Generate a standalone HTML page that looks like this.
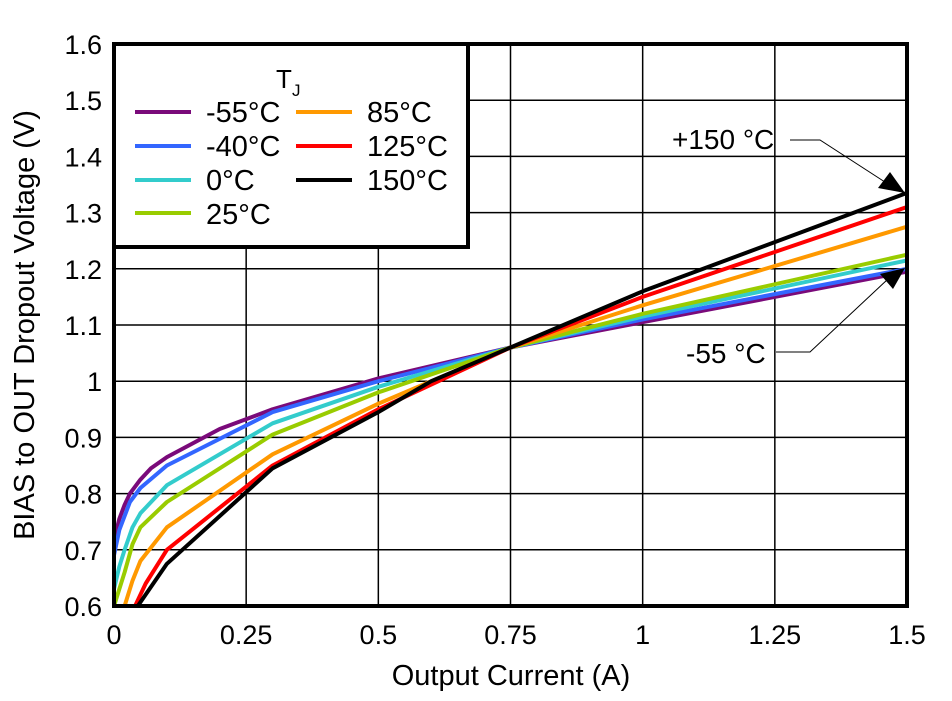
<!DOCTYPE html><html><head><style>body{margin:0;background:#fff}svg{display:block;font-family:"Liberation Sans",Arial,sans-serif}</style></head><body>
<svg id="s" width="952" height="701" viewBox="0 0 952 701" xmlns="http://www.w3.org/2000/svg">
<rect width="952" height="701" fill="#fff"/>
<g id="grid" stroke="#000" stroke-width="1.5"></g>
<g id="curves" fill="none" stroke-width="4" stroke-linejoin="round"></g>
<rect x="114" y="44" width="793" height="562" fill="none" stroke="#000" stroke-width="4"/>
<rect x="114" y="44" width="354" height="203" fill="#fff" stroke="#000" stroke-width="4"/>
<g font-size="29" fill="#000">
<text x="276" y="88" font-size="26">T</text><text x="292" y="96" font-size="17">J</text>
<line x1="135" y1="112" x2="191" y2="112" stroke="#7a0a7a" stroke-width="4"/><text x="206" y="122">-55°C</text>
<line x1="135" y1="146" x2="191" y2="146" stroke="#3366ff" stroke-width="4"/><text x="206" y="156">-40°C</text>
<line x1="135" y1="180" x2="191" y2="180" stroke="#33cccc" stroke-width="4"/><text x="206" y="190">0°C</text>
<line x1="135" y1="213" x2="191" y2="213" stroke="#99cc00" stroke-width="4"/><text x="206" y="224">25°C</text>
<line x1="296" y1="112" x2="352" y2="112" stroke="#ff9900" stroke-width="4"/><text x="367" y="122">85°C</text>
<line x1="296" y1="146" x2="352" y2="146" stroke="#ff0000" stroke-width="4"/><text x="367" y="156">125°C</text>
<line x1="296" y1="180" x2="352" y2="180" stroke="#000" stroke-width="4"/><text x="367" y="190">150°C</text>
<text x="672" y="149" font-size="28">+150 °C</text>
<text x="686" y="363" font-size="28">-55 °C</text>
<text x="511" y="685" text-anchor="middle">Output Current (A)</text>
<text transform="translate(34,325) rotate(-90)" text-anchor="middle">BIAS to OUT Dropout Voltage (V)</text>
</g>
<g id="ticks" font-size="27" fill="#000"></g>
<polyline points="790,140 820,140 888,184" fill="none" stroke="#000" stroke-width="1"/>
<polygon points="905,193 878,188 890,172" fill="#000"/>
<polyline points="776,352 810,352 888,279" fill="none" stroke="#000" stroke-width="1"/>
<polygon points="905,268 893,289 880,274" fill="#000"/>
</svg>
<script>
var X=v=>114+v*528.67,Y=v=>606-(v-0.6)*562,ns="http://www.w3.org/2000/svg";
function el(p,t,a,txt){var e=document.createElementNS(ns,t);for(var k in a)e.setAttribute(k,a[k]);if(txt)e.textContent=txt;document.getElementById(p).appendChild(e);}
var xl=["0","0.25","0.5","0.75","1","1.25","1.5"];
for(var i=0;i<7;i++){var x=X(i*0.25);el("grid","line",{x1:x,y1:44,x2:x,y2:606});el("ticks","text",{x:x,y:644,"text-anchor":"middle"},xl[i]);}
for(var i=0;i<11;i++){var v=0.6+i*0.1,y=Y(v);el("grid","line",{x1:114,y1:y,x2:907,y2:y});el("ticks","text",{x:102,y:y+10,"text-anchor":"end"},i==4?"1":v.toFixed(1));}
var C=[["#7a0a7a",[[0,0.71],[0.005,0.735],[0.01,0.755],[0.02,0.78],[0.03,0.80],[0.05,0.825],[0.07,0.845],[0.1,0.865],[0.2,0.915],[0.3,0.95],[0.5,1.005],[0.75,1.06],[1,1.105],[1.5,1.195]]],
["#3366ff",[[0,0.69],[0.01,0.735],[0.02,0.76],[0.03,0.785],[0.05,0.81],[0.1,0.85],[0.3,0.945],[0.5,1.0],[0.75,1.06],[1,1.11],[1.5,1.20]]],
["#33cccc",[[0,0.63],[0.01,0.67],[0.02,0.70],[0.035,0.74],[0.05,0.765],[0.1,0.815],[0.3,0.925],[0.5,0.99],[0.75,1.06],[1,1.115],[1.5,1.215]]],
["#99cc00",[[0,0.6],[0.01,0.63],[0.02,0.66],[0.035,0.71],[0.05,0.74],[0.1,0.785],[0.3,0.905],[0.5,0.98],[0.75,1.06],[1,1.12],[1.5,1.225]]],
["#ff9900",[[0.02,0.6],[0.035,0.645],[0.05,0.68],[0.1,0.74],[0.3,0.87],[0.5,0.96],[0.75,1.06],[1,1.135],[1.5,1.275]]],
["#ff0000",[[0.04,0.6],[0.06,0.64],[0.1,0.70],[0.3,0.85],[0.5,0.95],[0.75,1.06],[1,1.15],[1.5,1.31]]],
["#000000",[[0.045,0.6],[0.1,0.675],[0.3,0.845],[0.5,0.945],[0.6,1.0],[0.75,1.06],[1,1.16],[1.5,1.335]]]];
C.forEach(c=>el("curves","polyline",{stroke:c[0],points:c[1].map(p=>X(p[0]).toFixed(1)+","+Y(p[1]).toFixed(1)).join(" ")}));
</script>
</body></html>
